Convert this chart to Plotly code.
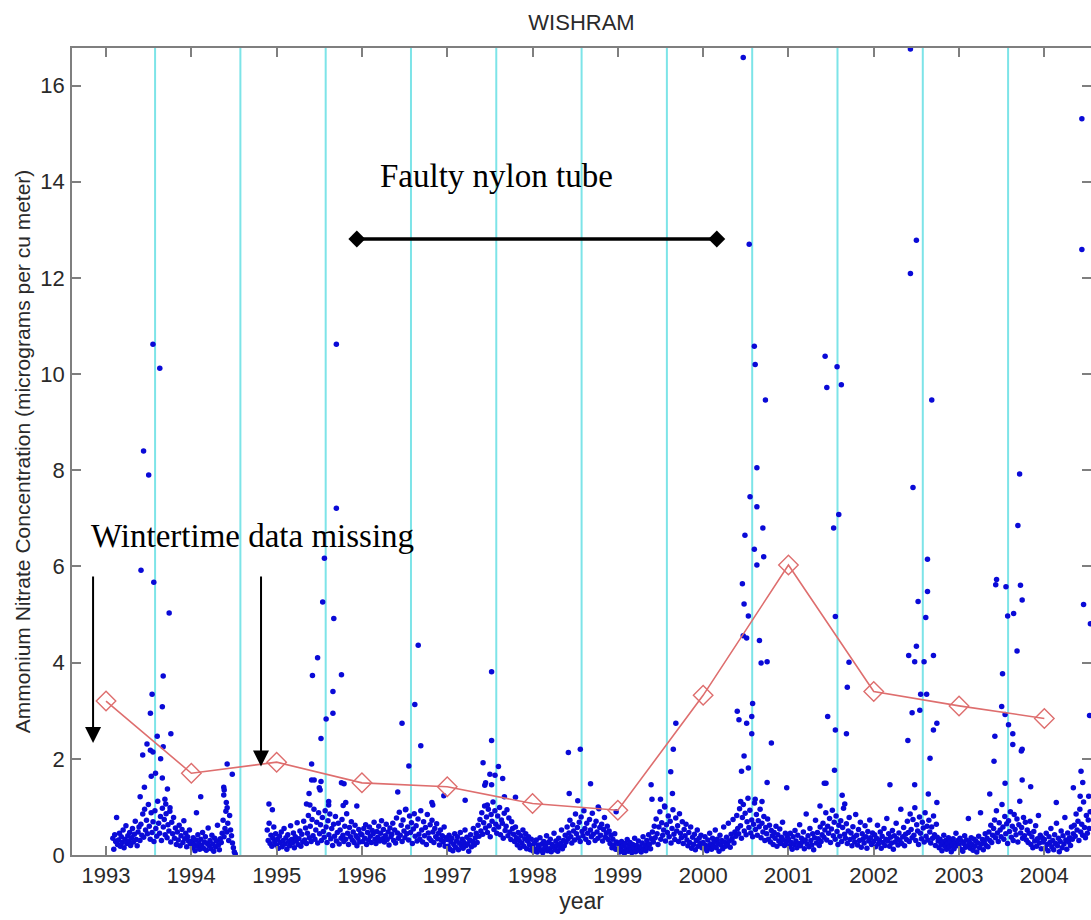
import plotly.graph_objects as go

# ---------------- data ----------------
year_ticks = [1993, 1994, 1995, 1996, 1997, 1998, 1999, 2000, 2001, 2002, 2003, 2004]
y_ticks = [0, 2, 4, 6, 8, 10, 12, 14, 16]

# annual means (red diamonds)
mean_years = [1993, 1994, 1995, 1996, 1997, 1998, 1999, 2000, 2001, 2002, 2003, 2004]
mean_values = [3.20, 1.70, 1.93, 1.50, 1.42, 1.07, 0.93, 3.32, 6.03, 3.40, 3.10, 2.84]

# vertical season markers (cyan)
season_lines = [1993.575, 1994.575, 1995.575, 1996.575, 1997.575, 1998.575,
                1999.575, 2000.575, 2001.575, 2002.575, 2003.575]

# routine samples, one value every SAMPLE_DAYS from each segment start
SAMPLE_DAYS = 4
c1993_start, c1993 = 1993.08, [
    0.35, 0.12, 0.42, 0.28, 0.78, 0.22, 0.31, 0.45, 0.18, 0.38,
    0.26, 0.52, 0.15, 0.33, 0.61, 0.24, 0.40, 0.29, 0.47, 0.20,
    0.36, 0.55, 0.27, 0.43, 0.70, 0.32, 0.19, 0.48, 0.58, 0.30,
    0.64, 0.41, 0.85, 0.37, 0.95, 0.52, 0.72, 0.44, 1.05, 0.60,
    0.33, 0.88, 0.47, 0.69, 0.28, 0.92, 0.55, 0.39, 1.12, 0.66,
    0.45, 0.80, 0.30, 0.97, 0.58, 0.74, 0.42, 0.86, 0.36, 0.63,
    0.50, 0.91, 0.27, 0.68, 0.44, 0.78, 0.35, 0.56, 0.22, 0.48,
    0.31, 0.62, 0.19, 0.40, 0.53, 0.26, 0.71, 0.34, 0.45, 0.17,
    0.38, 0.29, 0.52, 0.24]
c1994_start, c1994 = 1994.0, [
    0.28, 0.15, 0.36, 0.22, 0.09, 0.31, 0.18, 0.42, 0.25, 0.12,
    0.33, 0.20, 0.47, 0.14, 0.27, 0.38, 0.10, 0.24, 0.56, 0.19,
    0.30, 0.13, 0.41, 0.23, 0.08, 0.35, 0.17, 0.29, 0.62, 0.21,
    0.11, 0.34, 0.26, 0.45, 0.72, 0.38, 0.55, 0.91, 0.48, 0.66,
    0.30, 0.82, 0.52, 0.40, 0.25, 0.15, 0.06, 0.02]
c1995_start, c1995 = 1994.89, [
    0.52, 0.30, 0.66, 0.24, 0.41, 0.18, 0.35, 0.58, 0.27, 0.44,
    0.21, 0.33, 0.14, 0.39, 0.26, 0.48, 0.17, 0.30, 0.55, 0.23,
    0.36, 0.12, 0.42, 0.28, 0.19, 0.61, 0.32, 0.25, 0.46, 0.15,
    0.38, 0.29, 0.67, 0.22, 0.34, 0.50, 0.18, 0.43, 0.27, 0.70,
    0.31, 0.56, 0.24, 0.45, 0.82, 0.36, 0.60, 0.28, 0.74, 0.40,
    0.95, 0.33, 0.52, 0.68, 0.25, 0.88, 0.44, 0.63, 0.30, 0.78,
    0.49, 0.37, 0.92, 0.58, 0.26, 0.71, 0.42, 0.85, 0.34, 0.55,
    0.20, 0.64, 0.39, 0.80, 0.29, 0.47, 0.66, 0.23, 0.52, 0.35,
    0.74, 0.41, 0.28, 0.60, 0.33, 0.86, 0.45, 0.22, 0.57, 0.38,
    0.69, 0.31, 0.48, 0.26, 0.62, 0.40, 0.19, 0.35, 0.53, 0.27,
    0.44]
c1996_start, c1996 = 1996.0, [
    0.42, 0.28, 0.55, 0.35, 0.63, 0.22, 0.47, 0.31, 0.58, 0.39,
    0.26, 0.51, 0.44, 0.68, 0.33, 0.24, 0.49, 0.37, 0.60, 0.29,
    0.45, 0.71, 0.34, 0.53, 0.27, 0.40, 0.64, 0.32, 0.48, 0.21,
    0.56, 0.38, 0.43, 0.66, 0.30, 0.52, 0.25, 0.77, 0.46, 0.35,
    0.89, 0.41, 0.62, 0.28, 0.73, 0.50, 0.36, 0.95, 0.44, 0.58,
    0.31, 0.81, 0.47, 0.67, 0.24, 0.54, 0.86, 0.39, 0.61, 0.29,
    0.75, 0.43, 0.33, 0.92, 0.52, 0.27, 0.69, 0.40, 0.57, 0.22,
    0.84, 0.46, 0.35, 0.63, 0.30, 0.72, 0.48, 0.26, 0.55, 0.38,
    0.65, 0.34, 0.45, 0.21, 0.52, 0.31, 0.40, 0.27, 0.58, 0.18,
    0.36]
c1997_start, c1997 = 1997.0, [
    0.32, 0.18, 0.41, 0.12, 0.27, 0.35, 0.09, 0.22, 0.44, 0.16,
    0.29, 0.38, 0.11, 0.25, 0.47, 0.20, 0.33, 0.14, 0.26, 0.52,
    0.19, 0.37, 0.23, 0.08, 0.31, 0.42, 0.17, 0.28, 0.55, 0.21,
    0.36, 0.45, 0.26, 0.62, 0.39, 0.74, 0.50, 0.88, 0.43, 0.67,
    1.02, 0.56, 0.79, 0.47, 0.95, 0.61, 0.38, 0.84, 0.70, 1.10,
    0.53, 0.92, 0.64, 0.45, 0.81, 0.58, 0.99, 0.42, 0.73, 0.66,
    0.35, 0.87, 0.51, 0.60, 0.94, 0.40, 0.77, 0.48, 0.32, 0.69,
    0.55, 0.43, 0.28, 0.58, 0.36, 0.21, 0.47, 0.30, 0.15, 0.40,
    0.25, 0.52, 0.18, 0.34, 0.44, 0.13, 0.29, 0.38, 0.22, 0.11,
    0.33]
c1998_start, c1998 = 1998.0, [
    0.18, 0.08, 0.25, 0.12, 0.31, 0.06, 0.21, 0.15, 0.36, 0.10,
    0.23, 0.05, 0.28, 0.14, 0.19, 0.40, 0.09, 0.26, 0.13, 0.33,
    0.07, 0.22, 0.17, 0.45, 0.11, 0.29, 0.20, 0.08, 0.35, 0.16,
    0.24, 0.52, 0.13, 0.30, 0.19, 0.41, 0.27, 0.58, 0.34, 0.46,
    0.72, 0.38, 0.25, 0.63, 0.50, 0.31, 0.85, 0.44, 0.57, 0.36,
    0.68, 0.28, 0.79, 0.49, 0.40, 0.92, 0.55, 0.33, 0.66, 0.45,
    0.26, 0.74, 0.52, 0.38, 0.87, 0.43, 0.61, 0.30, 0.70, 0.48,
    0.35, 0.96, 0.57, 0.41, 0.64, 0.29, 0.53, 0.78, 0.37, 0.46,
    0.60, 0.32, 0.50, 0.24, 0.41, 0.15, 0.33, 0.21, 0.44, 0.12,
    0.27]
c1999_start, c1999 = 1999.0, [
    0.12, 0.21, 0.06, 0.16, 0.28, 0.09, 0.19, 0.04, 0.24, 0.13,
    0.32, 0.08, 0.18, 0.26, 0.11, 0.05, 0.22, 0.15, 0.35, 0.07,
    0.20, 0.14, 0.29, 0.10, 0.17, 0.06, 0.25, 0.38, 0.12, 0.21,
    0.09, 0.30, 0.16, 0.42, 0.23, 0.13, 0.34, 0.48, 0.27, 0.60,
    0.36, 0.75, 0.44, 0.22, 0.58, 0.90, 0.33, 0.67, 0.41, 0.52,
    1.02, 0.29, 0.63, 0.47, 0.81, 0.38, 0.70, 0.25, 0.55, 0.94,
    0.43, 0.32, 0.77, 0.50, 0.61, 0.28, 0.86, 0.45, 0.36, 0.69,
    0.24, 0.53, 0.40, 0.64, 0.31, 0.19, 0.47, 0.26, 0.58, 0.14,
    0.37, 0.22, 0.43, 0.11, 0.30, 0.52, 0.18, 0.35, 0.24, 0.41,
    0.15]
c2000_start, c2000 = 2000.0, [
    0.26, 0.14, 0.38, 0.20, 0.09, 0.31, 0.17, 0.45, 0.23, 0.12,
    0.35, 0.19, 0.28, 0.52, 0.15, 0.33, 0.24, 0.08, 0.41, 0.21,
    0.30, 0.13, 0.58, 0.27, 0.18, 0.37, 0.22, 0.66, 0.29, 0.16,
    0.43, 0.34, 0.74, 0.25, 0.48, 0.39, 0.82, 0.55, 0.44, 0.96,
    0.61, 0.35, 0.78, 1.05, 0.50, 0.87, 0.42, 0.69, 1.18, 0.57,
    0.93, 0.46, 0.73, 0.38, 0.64, 1.08, 0.53, 0.84, 0.41, 0.71,
    0.59, 0.95, 0.36, 0.66, 0.48, 0.80, 0.30, 0.57, 0.44, 0.75,
    0.33, 0.62, 0.27, 0.51, 0.40, 0.22, 0.47, 0.35, 0.60, 0.18,
    0.42, 0.29, 0.54, 0.24, 0.37, 0.68, 0.31, 0.20, 0.45, 0.26,
    0.39]
c2001_start, c2001 = 2001.0, [
    0.33, 0.18, 0.45, 0.26, 0.12, 0.38, 0.22, 0.51, 0.29, 0.15,
    0.41, 0.24, 0.63, 0.19, 0.35, 0.27, 0.48, 0.13, 0.31, 0.85,
    0.23, 0.40, 0.17, 0.55, 0.30, 0.21, 0.44, 0.11, 0.36, 0.72,
    0.25, 0.47, 0.34, 0.20, 0.58, 0.28, 0.42, 0.66, 0.37, 0.52,
    0.88, 0.31, 0.60, 0.45, 0.76, 0.26, 0.54, 0.93, 0.40, 0.68,
    0.33, 0.81, 0.49, 0.22, 0.62, 0.39, 0.71, 0.28, 0.57, 0.97,
    0.43, 0.35, 0.65, 0.24, 0.50, 0.78, 0.32, 0.46, 0.19, 0.59,
    0.37, 0.27, 0.84, 0.41, 0.21, 0.53, 0.30, 0.68, 0.16, 0.44,
    0.34, 0.25, 0.61, 0.38, 0.14, 0.49, 0.29, 0.73, 0.36, 0.22,
    0.46]
c2002_start, c2002 = 2002.0, [
    0.28, 0.42, 0.17, 0.35, 0.62, 0.23, 0.31, 0.48, 0.14, 0.39,
    0.26, 0.55, 0.20, 0.33, 0.76, 0.29, 0.44, 0.18, 0.37, 0.25,
    0.51, 0.12, 0.40, 0.27, 0.66, 0.34, 0.21, 0.46, 0.30, 0.95,
    0.24, 0.38, 0.57, 0.19, 0.43, 0.32, 0.70, 0.47, 0.28, 0.85,
    0.53, 0.36, 0.74, 0.41, 0.98, 0.30, 0.63, 0.50, 0.22, 0.79,
    0.45, 0.34, 0.68, 0.56, 0.27, 0.88, 0.39, 0.60, 0.31, 0.72,
    0.48, 0.25, 0.58, 0.35, 0.81, 0.42, 0.20, 0.64, 0.37, 0.29,
    0.15, 0.33, 0.22, 0.09, 0.27, 0.41, 0.18, 0.30, 0.12, 0.24,
    0.36, 0.16, 0.28, 0.07, 0.21, 0.34, 0.13, 0.25, 0.45, 0.19,
    0.30]
c2003_start, c2003 = 2003.0, [
    0.21, 0.35, 0.12, 0.28, 0.08, 0.24, 0.40, 0.16, 0.31, 0.19,
    0.76, 0.27, 0.14, 0.36, 0.22, 0.10, 0.33, 0.18, 0.29, 0.06,
    0.25, 0.39, 0.15, 0.88, 0.23, 0.32, 0.11, 0.27, 0.44, 0.20,
    0.35, 0.17, 0.48, 0.30, 0.62, 0.26, 0.41, 0.55, 0.73, 0.36,
    0.92, 0.46, 0.28, 0.67, 0.52, 0.38, 1.05, 0.58, 0.33, 0.80,
    0.44, 0.65, 0.24, 0.71, 0.49, 0.90, 0.37, 0.60, 0.30, 0.84,
    0.53, 0.42, 0.75, 0.27, 0.63, 1.12, 0.46, 0.57, 0.35, 0.78,
    0.40, 0.68, 0.31, 0.52, 0.26, 0.45, 0.70, 0.22, 0.38, 0.15,
    0.49, 0.29, 0.61, 0.18, 0.34, 0.82, 0.25, 0.41, 0.13, 0.36,
    0.27]
c2004_start, c2004 = 2004.0, [
    0.32, 0.14, 0.45, 0.22, 0.09, 0.38, 0.26, 0.55, 0.17, 0.30,
    0.11, 0.42, 0.24, 0.66, 0.19, 0.35, 0.07, 0.28, 0.50, 0.15,
    0.40, 0.23, 0.78, 0.31, 0.12, 0.46, 0.27, 0.36, 0.20, 0.58,
    0.33, 0.44, 0.62, 0.39, 0.85, 0.52, 0.70, 0.30, 0.95, 0.48,
    0.64, 0.41, 1.10, 0.57, 0.36, 0.82, 0.45, 0.73, 0.55, 0.90]

# high-concentration episodes (individually read samples)
peak_years = [
    1993.44, 1993.50, 1993.55, 1993.63, 1993.41, 1993.56, 1993.74, 1993.67, 1993.54, 1993.66,
    1993.52, 1993.76, 1993.60, 1993.48, 1993.43, 1993.52, 1993.55, 1993.67, 1993.64, 1993.58,
    1993.53, 1993.66, 1993.45, 1993.72, 1993.40, 1993.69, 1993.70, 1993.75,
    1994.06, 1994.11, 1994.38, 1994.385, 1994.38, 1994.41, 1994.42, 1994.42, 1994.48,
    1994.91, 1994.95, 1995.35, 1995.38, 1995.39, 1995.41, 1995.41, 1995.42, 1995.44, 1995.48,
    1995.50, 1995.51, 1995.52, 1995.52, 1995.54, 1995.56, 1995.58, 1995.61, 1995.61, 1995.66,
    1995.66, 1995.67, 1995.70, 1995.70, 1995.76, 1995.76, 1995.78, 1995.79, 1995.81, 1995.94,
    1996.42, 1996.47, 1996.51, 1996.55, 1996.62, 1996.66, 1996.69, 1996.82, 1996.83, 1996.96,
    1997.21, 1997.42, 1997.44, 1997.45, 1997.47, 1997.50, 1997.52, 1997.52, 1997.52, 1997.56,
    1997.60, 1997.65, 1997.67, 1997.80,
    1998.42, 1998.43, 1998.53, 1998.56, 1998.68, 1998.77, 1998.98,
    1999.39, 1999.40, 1999.50, 1999.55, 1999.62, 1999.64, 1999.65, 1999.68,
    2000.40, 2000.42, 2000.44, 2000.45, 2000.46, 2000.47, 2000.47, 2000.48, 2000.48, 2000.49,
    2000.51, 2000.51, 2000.53, 2000.53, 2000.54, 2000.55, 2000.57, 2000.57, 2000.58, 2000.60,
    2000.60, 2000.61, 2000.61, 2000.63, 2000.63, 2000.63, 2000.66, 2000.68, 2000.69, 2000.70,
    2000.71, 2000.73, 2000.75, 2000.75, 2000.80, 2000.98,
    2001.37, 2001.42, 2001.43, 2001.44, 2001.45, 2001.46, 2001.53, 2001.54, 2001.55, 2001.55,
    2001.57, 2001.59, 2001.62, 2001.63, 2001.66, 2001.68, 2001.69, 2001.71,
    2002.19, 2002.40, 2002.41, 2002.43, 2002.43, 2002.45, 2002.46, 2002.48, 2002.48, 2002.50,
    2002.50, 2002.52, 2002.54, 2002.55, 2002.59, 2002.61, 2002.62, 2002.63, 2002.63, 2002.64,
    2002.66, 2002.68, 2002.70, 2002.70, 2002.74, 2002.74,
    2003.36, 2003.41, 2003.42, 2003.43, 2003.44, 2003.50, 2003.51, 2003.54, 2003.54, 2003.55,
    2003.57, 2003.58, 2003.63, 2003.63, 2003.64, 2003.68, 2003.69, 2003.71, 2003.72, 2003.73,
    2003.74, 2003.74, 2003.74, 2003.84,
    2004.14, 2004.34, 2004.42, 2004.43, 2004.44, 2004.44, 2004.45, 2004.46, 2004.52, 2004.53,
    2004.54]
peak_vals = [
    8.40, 7.90, 10.62, 10.12, 5.92, 5.67, 5.03, 3.72, 3.34, 3.08,
    2.95, 2.52, 2.47, 2.31, 2.08, 2.18, 2.14, 2.25, 2.00, 1.70,
    1.64, 1.60, 1.41, 1.37, 1.21, 1.16, 1.06, 0.98,
    0.88, 1.21, 1.41, 1.35, 1.25, 1.09, 0.98, 1.89, 1.68,
    1.06, 0.94, 1.06, 1.28, 1.04, 1.89, 1.56, 3.73, 1.56, 4.10,
    1.40, 1.35, 2.42, 1.53, 5.26, 6.17, 2.83, 1.04, 1.11, 3.40,
    2.95, 4.92, 7.21, 10.62, 3.75, 1.50, 1.03, 1.48, 1.09, 1.02,
    1.31, 2.74, 0.94, 1.85, 3.13, 4.36, 2.27, 1.09, 1.04, 1.23,
    1.14, 1.92, 1.45, 1.50, 1.04, 1.68, 2.38, 3.81, 1.46, 1.66,
    1.84, 1.59, 1.21, 1.20,
    2.13, 1.28, 1.13, 2.20, 1.48, 1.00, 0.90,
    1.46, 1.16, 1.16, 1.00, 1.73, 1.28, 2.20, 2.74,
    2.99, 2.81, 1.11, 1.74, 5.64, 16.58, 4.56, 5.22, 2.06, 6.65,
    4.51, 2.74, 4.97, 1.81, 12.70, 7.45, 2.88, 2.52, 3.15, 10.58,
    6.36, 10.20, 1.16, 8.05, 7.24, 6.03, 4.46, 3.99, 1.11, 6.80,
    6.20, 9.46, 4.02, 1.51, 2.33, 1.40,
    1.02, 1.49, 10.37, 1.49, 9.72, 2.88, 6.80, 1.76, 4.96, 2.60,
    10.15, 7.08, 9.78, 1.24, 1.06, 2.52, 3.49, 4.01,
    1.46, 2.38, 4.15, 16.76, 12.09, 2.96, 7.64, 4.02, 1.46, 12.78,
    4.34, 5.27, 3.01, 3.34, 4.02, 4.94, 3.34, 6.15, 5.48, 1.27,
    2.01, 9.46, 4.15, 2.60, 2.74, 1.09,
    1.27, 1.95, 2.47, 5.62, 5.73, 3.09, 3.77, 2.92, 1.49, 5.58,
    4.97, 2.71, 2.52, 2.30, 5.02, 4.24, 6.85, 7.92, 5.61, 2.16,
    5.30, 2.20, 1.56, 1.42,
    1.09, 1.40, 1.22, 1.74, 15.31, 12.59, 1.51, 5.21, 1.22, 2.90,
    4.81]

# annotations
faulty_years = [1995.94, 2000.16]
faulty_level = 12.81
winter_arrows = [(1992.848, 5.82, 2.33), (1994.817, 5.82, 1.84)]  # (year, tail, tip)

# ---------------- assemble samples ----------------
segments = [(c1993_start, c1993), (c1994_start, c1994), (c1995_start, c1995),
            (c1996_start, c1996), (c1997_start, c1997), (c1998_start, c1998),
            (c1999_start, c1999), (c2000_start, c2000), (c2001_start, c2001),
            (c2002_start, c2002), (c2003_start, c2003), (c2004_start, c2004)]
pairs = []
step = SAMPLE_DAYS / 365.25
for start, vals in segments:
    for i, v in enumerate(vals):
        pairs.append((start + i * step, v))
pairs += list(zip(peak_years, peak_vals))
pairs.sort()
sx = [p[0] for p in pairs]
sy = [p[1] for p in pairs]

fig = go.Figure()

fig.add_trace(go.Scatter(
    x=sx, y=sy, mode="markers",
    marker=dict(size=5.5, color="rgb(10,10,215)", line=dict(width=0)),
    showlegend=False, hoverinfo="x+y"))

fig.add_trace(go.Scatter(
    x=mean_years, y=mean_values, mode="lines+markers",
    line=dict(color="rgb(222,110,110)", width=1.6),
    marker=dict(symbol="diamond-open", size=15, color="rgb(222,110,110)",
                line=dict(width=1.4)),
    showlegend=False))

fig.add_trace(go.Scatter(
    x=faulty_years, y=[faulty_level, faulty_level], mode="lines+markers",
    line=dict(color="black", width=3.5),
    marker=dict(symbol="diamond", size=13, color="black"),
    showlegend=False, hoverinfo="skip"))

for yr in season_lines:
    fig.add_shape(type="line", xref="x", yref="paper", x0=yr, x1=yr, y0=0, y1=1,
                  line=dict(color="rgb(125,228,232)", width=2), layer="below")

serif = "Liberation Serif, Times New Roman, serif"
fig.add_annotation(x=1996.19, y=14.12, xref="x", yref="y", text="Faulty nylon tube",
                   showarrow=False, xanchor="left", yanchor="middle",
                   font=dict(family=serif, size=33, color="black"))
fig.add_annotation(x=1992.80, y=6.63, xref="x", yref="y", text="Wintertime data missing",
                   showarrow=False, xanchor="left", yanchor="middle",
                   font=dict(family=serif, size=33, color="black"))
for yr, tail, tip in winter_arrows:
    fig.add_annotation(x=yr, y=tip, ax=yr, ay=tail, xref="x", yref="y",
                       axref="x", ayref="y", text="", showarrow=True,
                       arrowhead=2, arrowsize=1.6, arrowwidth=2, arrowcolor="black")

sans = "Liberation Sans, Arial, sans-serif"
axis_common = dict(showline=True, linecolor="#7f7f7f", linewidth=1.5, mirror="ticks",
                   ticks="inside", ticklen=9, tickcolor="#7f7f7f", tickwidth=1.5,
                   showgrid=False, zeroline=False, automargin=False,
                   tickfont=dict(family=sans, size=22, color="#2a2a2a"))

fig.update_layout(
    width=1091, height=920,
    margin=dict(l=72, r=0, t=48, b=65),
    paper_bgcolor="white", plot_bgcolor="white",
    title=dict(text="WISHRAM", x=0.5, xref="paper", y=1 - 22 / 920, yref="container",
               xanchor="center", yanchor="middle",
               font=dict(family=sans, size=22, color="#2a2a2a")),
    xaxis=dict(range=[1992.601, 2004.547], tickvals=year_ticks,
               ticktext=[str(t) for t in year_ticks], ticklabelstandoff=0,
               title=dict(text="year", standoff=2,
                          font=dict(family=sans, size=23, color="#2a2a2a")),
               **axis_common),
    yaxis=dict(range=[0, 16.78], tickvals=y_ticks, ticklabelstandoff=1,
               title=dict(text="Ammonium Nitrate Concentration (micrograms per cu meter)",
                          standoff=4, font=dict(family=sans, size=21, color="#2a2a2a")),
               **axis_common),
)

fig.write_html("out.html", config={"displayModeBar": False},
               post_script="document.body.style.margin='0';document.body.style.overflow='hidden';")
